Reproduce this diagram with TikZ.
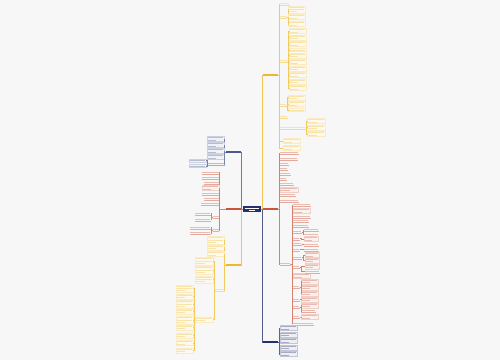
\documentclass[tikz,border=0pt]{standalone}
\usepackage{tikz}
\usetikzlibrary{calc}

\definecolor{bgc}{HTML}{F7F7F7}
\definecolor{navyc}{HTML}{26306A}
\definecolor{bluec}{HTML}{4A5A8C}
\definecolor{yelc}{HTML}{EDB829}
\definecolor{redc}{HTML}{C9553C}

% one pixel of the 500x360 picture
\newcommand{\px}{0.7113pt}

% block of text lines: name, colour, x, y, width, lines
\newcommand{\tb}[6]{%
  \node[tblock=#2, minimum width=#5*\px, minimum height={(#6*2.2+0.8)*\px}] (#1) at (#3,#4) {};
  \foreach \k in {1,...,#6}{
    \pgfmathsetmacro{\lw}{(1-0.45*(\k==#6)*(#6>1))*(#5-2)}
    \draw[tline=#2] ([xshift=\px, yshift={-(0.4+(\k-0.5)*2.2)*\px}]#1.north west) -- ++(\lw,0);
  }
}
% underlined text: name, colour, x, y, width
\newcommand{\lf}[5]{%
  \node[tleaf, minimum width=#5*\px] (#1) at (#3,#4) {};
  \draw[tline=#2] ([yshift=0.3*\px]#1.west) -- ++(#5,0);
  \draw[uline=#2] (#1.south west) -- (#1.south east);
}

\begin{document}
\begin{tikzpicture}[x=0.025cm,y=-0.025cm,
  root/.style={fill=navyc, minimum width=18*\px, minimum height=6*\px, inner sep=0pt},
  bar/.style={fill=#1, minimum width=15*\px, minimum height=2.6*\px, inner sep=0pt},
  tblock/.style={draw=#1!28, fill=white!92!#1, line width=0.25pt, inner sep=0pt, anchor=west},
  tleaf/.style={inner sep=0pt, minimum height=2.6*\px, anchor=west},
  tline/.style={draw=#1!40, line width=0.4pt},
  uline/.style={draw=#1!50, line width=0.3pt},
  cn/.style={draw=#1!75, line width=0.35pt},
  main/.style={draw=#1!80, line width=0.6pt}]

\fill[bgc] (0,0) rectangle (500,360);

% centre and main branches
\node[root] (root) at (252,209) {};
\draw[white, line width=0.4pt] ([xshift=2*\px, yshift=1.2*\px]root.west) -- ([xshift=-2*\px, yshift=1.2*\px]root.east);
\draw[white, line width=0.4pt] ([xshift=6*\px, yshift=-1.2*\px]root.west) -- ([xshift=-6*\px, yshift=-1.2*\px]root.east);

\node[bar=yelc] (Y1) at (270.5,75) {};
\node[bar=redc] (R1) at (270.5,209) {};
\node[bar=navyc] (N1) at (270.5,342) {};
\node[bar=bluec] (B1) at (233.5,152) {};
\node[bar=redc] (R2) at (233.5,209) {};
\node[bar=yelc] (Y2) at (233.5,265) {};

\draw[main=yelc] (root.east) -- ++(1,0) |- (Y1.west);
\draw[main=navyc] (root.east) -- ++(1,0) |- (N1.west);
\draw[main=redc] (root.east) -- (R1.west);
\draw[main=bluec] (root.west) -- ++(-1,0) |- (B1.east);
\draw[main=yelc] (root.west) -- ++(-1,0) |- (Y2.east);
\draw[main=redc] (root.west) -- (R2.east);

% yellow, right
\lf{ya}{yelc}{280}{4}{9}
\lf{yb}{yelc}{280}{17}{6}
\lf{yc}{yelc}{280}{61}{7}
\lf{yd}{yelc}{280}{105}{6}
\lf{ye}{yelc}{280}{117}{7}
\lf{yf}{yelc}{280}{128}{25}
\tb{yg}{yelc}{283}{141}{17}{2}
\tb{yh}{yelc}{283}{148}{17}{2}
\foreach \c in {ya,yb,yc,yd,ye,yf,yg,yh}
  \draw[cn=yelc] (Y1.east) -- ++(1,0) |- (\c.west);
\foreach \y/\l [count=\i] in {9.5/3,17/2,24/2}{
  \tb{yb\i}{yelc}{288}{\y}{17}{\l}
  \draw[cn=yelc] (yb.east) -- ++(1.5,0) |- (yb\i.west);}
\foreach \y/\l [count=\i] in {31/2,37.5/2,44/2,50/1,55.5/2,62/2,68.5/2,75/2,81.5/2,88/2}{
  \tb{yc\i}{yelc}{289}{\y}{17}{\l}
  \draw[cn=yelc] (yc.east) -- ++(1,0) |- (yc\i.west);}
\foreach \y/\l [count=\i] in {97.5/2,104/2,110/1}{
  \tb{yd\i}{yelc}{288}{\y}{17}{\l}
  \draw[cn=yelc] (yd.east) -- ++(1,0) |- (yd\i.west);}
\foreach \y [count=\i] in {121,127.5,134}{
  \tb{yf\i}{yelc}{307}{\y}{18}{2}
  \draw[cn=yelc] (yf.east) -- ++(1,0) |- (yf\i.west);}

% red, right
\foreach \y/\w [count=\i] in {153/18,158.5/17,164/8,169/7,174/10,179/6,184/13,195/15,200.5/18}{
  \lf{ra\i}{redc}{280}{\y}{\w}
  \draw[cn=redc] (R1.east) -- ++(1,0) |- (ra\i.west);}
\tb{rb}{redc}{280}{189.5}{18}{2}
\lf{rz}{redc}{280}{264}{10}
\foreach \c in {rb,rz}
  \draw[cn=redc] (R1.east) -- ++(1,0) |- (\c.west);

\foreach \n/\y/\w in {1/205/17,3/216.5/17,4/221/15,5/226/15,6/232/8,7/238.5/6,8/244/8,9/249.5/6,
    10/257.5/8,11/267/6,13/287/6,14/299.5/6,15/307/6,16/317/6,17/323.5/20}{
  \lf{r\n}{redc}{293}{\y}{\w}}
\tb{r2}{redc}{293}{211}{17}{2}
\tb{r12}{redc}{293}{276}{17}{2}
\foreach \n in {1,...,17}
  \draw[cn=redc] (rz.east) -- ++(1.5,0) |- (r\n.west);

\lf{r6a}{redc}{304}{230}{14}
\lf{r6b}{redc}{304}{234.5}{14}
\tb{r7a}{redc}{304}{239}{14}{2}
\lf{r8a}{redc}{304}{244.5}{14}
\lf{r9a}{redc}{304}{249.5}{14}
\tb{r10a}{redc}{305}{255}{14}{2}
\tb{r10b}{redc}{305}{260.5}{14}{2}
\tb{r11a}{redc}{305}{266.5}{14}{2}
\lf{r11b}{redc}{305}{271.5}{14}
\tb{r13a}{redc}{301}{281.5}{17}{2}
\tb{r13b}{redc}{301}{287.5}{17}{2}
\tb{r13c}{redc}{301}{293.5}{17}{2}
\tb{r14a}{redc}{301}{299.5}{17}{2}
\tb{r15a}{redc}{301}{305.5}{17}{2}
\lf{r15b}{redc}{301}{311}{14}
\tb{r16a}{redc}{301}{317}{17}{2}
\foreach \p/\c in {r6/r6a,r6/r6b,r7/r7a,r8/r8a,r9/r9a,r10/r10a,r10/r10b,r11/r11a,r11/r11b,
    r13/r13a,r13/r13b,r13/r13c,r14/r14a,r15/r15a,r15/r15b,r16/r16a}
  \draw[cn=redc] (\p.east) -- ++(1.2,0) |- (\c.west);

% navy, bottom right
\foreach \y [count=\i] in {328,334.5,341,347.5,354}{
  \tb{n\i}{navyc}{280}{\y}{17}{2}
  \draw[cn=navyc] (N1.east) -- ++(1,0) |- (n\i.west);}

% blue, left
\foreach \y [count=\i] in {139,145,151,157}{
  \tb{b\i}{bluec}{207}{\y}{17}{2}
  \draw[cn=bluec] (B1.west) -- ++(-1,0) |- (b\i.east);}
\lf{bl}{bluec}{208}{164}{16}
\draw[cn=bluec] (B1.west) -- ++(-1,0) |- (bl.east);
\tb{bl1}{bluec}{189}{160.5}{17}{1}
\tb{bl2}{bluec}{189}{166}{17}{1}
\foreach \c in {bl1,bl2}
  \draw[cn=bluec] (bl.west) -- ++(-1,0) |- (\c.east);

% red, left
\foreach \y/\w [count=\i] in {172.5/17,177.5/17,182.5/15,193.5/17,198.5/15,203.5/18}{
  \lf{rl\i}{redc}{218.5-\w}{\y}{\w}
  \draw[cn=redc] (R2.west) -- ++(-6.5,0) |- (rl\i.east);}
\tb{rlb}{redc}{201.5}{188}{17}{2}
\lf{rm}{redc}{212.5}{217}{6}
\lf{rn}{redc}{212.5}{230}{6}
\foreach \c in {rlb,rm,rn}
  \draw[cn=redc] (R2.west) -- ++(-6.5,0) |- (\c.east);
\lf{rm1}{redc}{195}{213.5}{15}
\lf{rm2}{redc}{195}{219.5}{15}
\lf{rn1}{redc}{190}{227.5}{20}
\lf{rn2}{redc}{190}{233}{20}
\foreach \p/\c in {rm/rm1,rm/rm2,rn/rn1,rn/rn2}
  \draw[cn=redc] (\p.west) -- ++(-1.5,0) |- (\c.east);

% yellow, left
\foreach \y/\l [count=\i] in {240/3,247.5/2,254/2}{
  \tb{yl\i}{yelc}{207}{\y}{17}{\l}
  \draw[cn=yelc] (Y2.west) -- ++(-1,0) |- (yl\i.east);}
\lf{ym}{yelc}{215}{290}{9}
\draw[cn=yelc] (Y2.west) -- ++(-1,0) |- (ym.east);
\foreach \y [count=\i] in {261,270,279.5}{
  \tb{ym\i}{yelc}{195}{\y}{18}{3}
  \draw[cn=yelc] (ym.west) -- ++(-1,0) |- (ym\i.east);}
\tb{yn}{yelc}{195}{319.5}{18}{2}
\draw[cn=yelc] (ym.west) -- ++(-1,0) |- (yn.east);
\foreach \y/\l [count=\i] in {288.5/3,296.5/2,304/3,311.5/2,320/3,327.5/2,335.5/2,343/2,350.5/2}{
  \tb{yn\i}{yelc}{176}{\y}{17}{\l}
  \draw[cn=yelc] (yn.west) -- ++(-1,0) |- (yn\i.east);}

\end{tikzpicture}
\end{document}
